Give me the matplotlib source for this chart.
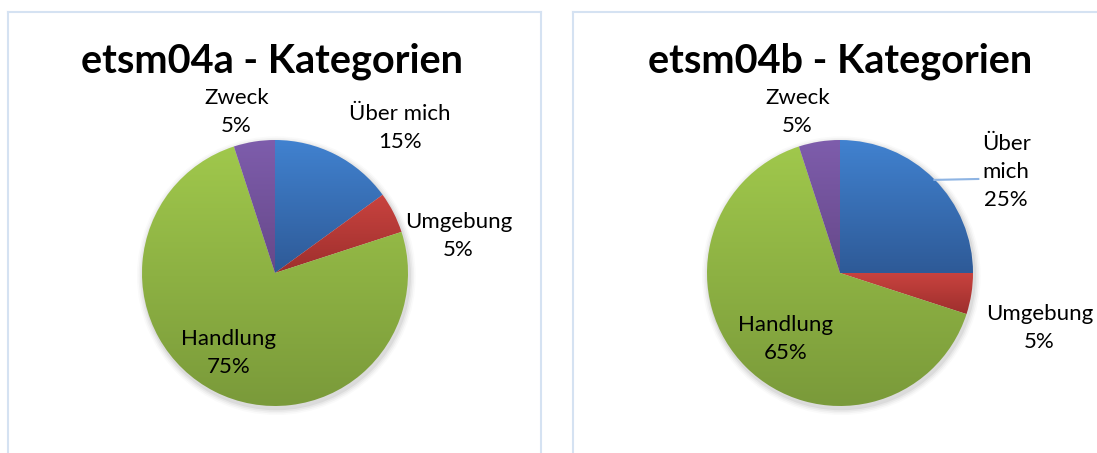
import numpy as np
import matplotlib
matplotlib.use("Agg")
import matplotlib.pyplot as plt
from matplotlib.colors import LinearSegmentedColormap

plt.rcParams['font.family'] = ['Lato', 'DejaVu Sans']

# data
categories = ["Über mich", "Umgebung", "Handlung", "Zweck"]
titles = ["etsm04a - Kategorien", "etsm04b - Kategorien"]
values_a = [15, 5, 75, 5]
values_b = [25, 5, 65, 5]
labels_b = ["Über\nmich", "Umgebung", "Handlung", "Zweck"]

# gradient colours (top, bottom) per category
grad = [("#4182D0", "#2E5A97"), ("#C9433F", "#9E2F2D"),
        ("#A0C84C", "#7A9A3A"), ("#7E5DAC", "#664889")]
border = "#D5E2F2"

W, H = 1097, 453
R = 133.0
fig = plt.figure(figsize=(W / 100, H / 100), dpi=100)

# label positions in pie-radius units (x, y)
pos_a = [(0.94, 1.09), (1.38, 0.28), (-0.35, -0.60), (-0.29, 1.21)]
pos_b = [(1.25, 0.76), (1.50, -0.41), (-0.41, -0.50), (-0.32, 1.21)]

panels = [
    dict(box=(8, 12, 541, 470), c=(275, 273), vals=values_a, labs=categories, pos=pos_a,
         tx=272, title=titles[0], leader=None),
    dict(box=(573, 12, 1110, 470), c=(840, 273), vals=values_b, labs=labels_b, pos=pos_b,
         tx=840, title=titles[1], leader=((0.71, 0.70), (1.04, 0.707))),
]

for p in panels:
    x0, y0, x1, y1 = p["box"]
    cx, cy = p["c"]
    ax = fig.add_axes([x0 / W, 1 - y1 / H, (x1 - x0) / W, (y1 - y0) / H])
    wedges, _ = ax.pie(p["vals"], startangle=90, counterclock=False, radius=1.0,
                       frame=True, wedgeprops=dict(linewidth=0))
    # soft shadow
    for k, a in enumerate([0.05, 0.04, 0.03, 0.02]):
        sh = plt.Circle((0.01, -0.02), 1.0 + 0.012 * (k + 1), color="#000000",
                        alpha=a, lw=0, zorder=0)
        ax.add_patch(sh)
    for w, (ctop, cbot) in zip(wedges, grad):
        w.set_facecolor("none")
        ext = w.get_path().get_extents()
        cmap = LinearSegmentedColormap.from_list("g", [cbot, ctop])
        g = np.linspace(0, 1, 256).reshape(-1, 1)
        im = ax.imshow(g, cmap=cmap, origin="lower", aspect="auto",
                       extent=(ext.x0, ext.x1, ext.y0, ext.y1), zorder=1,
                       interpolation="bilinear")
        im.set_clip_path(w)
    for lab, v, (lx, ly) in zip(p["labs"], p["vals"], p["pos"]):
        ax.text(lx, ly, f"{lab}\n{v}%", ha="center", va="center", fontsize=16,
                linespacing=1.5, color="#000000", zorder=3)
    if p["leader"]:
        (ax_, ay_), (bx_, by_) = p["leader"]
        ax.plot([ax_, bx_], [ay_, by_], color="#8EB4E3", lw=1.5, zorder=3)
    ax.set_xlim((x0 - cx) / R, (x1 - cx) / R)
    ax.set_ylim((cy - y1) / R, (cy - y0) / R)
    ax.set_aspect("auto")
    ax.set_xticks([])
    ax.set_yticks([])
    for s in ax.spines.values():
        s.set_color(border)
        s.set_linewidth(1.5)
    fig.text(p["tx"] / W, 1 - 61 / H, p["title"], ha="center", va="center",
             fontsize=28.5, fontweight="bold")

fig.savefig("out.png", dpi=100, facecolor="white")
